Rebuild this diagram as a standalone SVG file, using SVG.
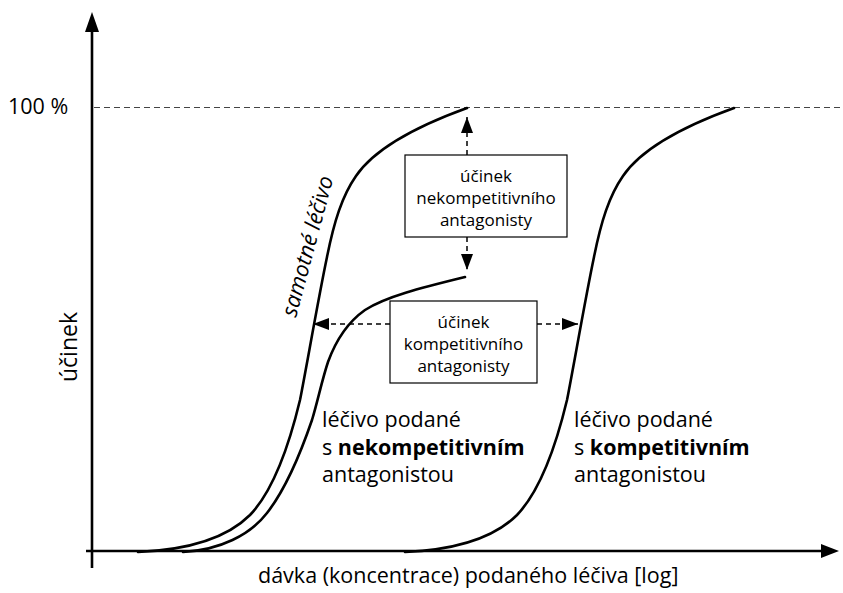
<svg xmlns="http://www.w3.org/2000/svg" width="843" height="593" viewBox="0 0 843 593">
<style>
text{font-family:"Open Sans","Noto Sans",sans-serif;fill:#000}
.lbl{font-size:21.5px}
.box{font-size:17px;text-anchor:middle}
.curve{fill:none;stroke:#000;stroke-width:2.6;stroke-linecap:round}
.axis{stroke:#000;stroke-width:2.6;fill:none}
.dash{stroke:#000;stroke-width:1.5;stroke-dasharray:5 4;fill:none}
.ref{stroke:#444;stroke-width:1.2;stroke-dasharray:6 4;fill:none}
.boxr{fill:#fff;stroke:#000;stroke-width:1.2}
</style>
<defs>
<marker id="ah" markerUnits="userSpaceOnUse" markerWidth="16" markerHeight="12" refX="16" refY="6" orient="auto">
<path d="M0,0 L16,6 L0,12 z" fill="#000" stroke="none"/>
</marker>
<path id="sig" d="M138,552 C185,550 225,540 250,515 C272,492 288,450 300,400 C306,370 318,300 327,257 C334,222 342,196 356,176 C375,148 420,125 467,108"/>
</defs>

<g id="axes">
<line class="ref" x1="94" y1="107.5" x2="843" y2="107.5"/>
<line class="axis" x1="92" y1="568" x2="92" y2="28"/>
<polygon points="92,12 85,32 99,32" fill="#000"/>
<line class="axis" x1="86" y1="551" x2="824" y2="551"/>
<polygon points="839,551 821,544 821,558" fill="#000"/>
<text class="lbl" x="8" y="114">100 %</text>
<text transform="translate(77,347) rotate(-90)" text-anchor="middle" font-size="23">účinek</text>
<text class="lbl" x="258" y="583">dávka (koncentrace) podaného léčiva [log]</text>
</g>

<g id="curve-samotne">
<use href="#sig" class="curve"/>
<text transform="translate(296,318) rotate(-75)" font-size="22" font-style="italic">samotné léčivo</text>
</g>

<g id="curve-nekompetitivni">
<path class="curve" d="M183,552 C220,550 250,535 267,513 C285,490 300,455 312,420 C318,400 322,380 328,362 C336,340 348,322 365,310 C385,297 420,288 465,277"/>
<text class="lbl" x="322" y="427">léčivo podané</text>
<text class="lbl" x="322" y="455">s <tspan font-weight="bold">nekompetitivním</tspan></text>
<text class="lbl" x="322" y="482">antagonistou</text>
</g>

<g id="curve-kompetitivni">
<use href="#sig" class="curve" transform="translate(267,0)"/>
<text class="lbl" x="574" y="427">léčivo podané</text>
<text class="lbl" x="574" y="455">s <tspan font-weight="bold">kompetitivním</tspan></text>
<text class="lbl" x="574" y="482">antagonistou</text>
</g>

<g id="connectors">
<line class="dash" x1="467" y1="155" x2="467" y2="117" marker-end="url(#ah)"/>
<line class="dash" x1="467" y1="237" x2="467" y2="270" marker-end="url(#ah)"/>
<line class="dash" x1="390" y1="324" x2="313" y2="324" marker-end="url(#ah)"/>
<line class="dash" x1="537" y1="324" x2="578" y2="324" marker-end="url(#ah)"/>
</g>

<g id="box-nekompetitivni">
<rect class="boxr" x="405" y="155" width="162" height="82"/>
<text class="box" x="486" y="182">účinek</text>
<text class="box" x="486" y="204">nekompetitivního</text>
<text class="box" x="486" y="226">antagonisty</text>
</g>

<g id="box-kompetitivni">
<rect class="boxr" x="390" y="301" width="147" height="82"/>
<text class="box" x="463.5" y="328">účinek</text>
<text class="box" x="463.5" y="350">kompetitivního</text>
<text class="box" x="463.5" y="372">antagonisty</text>
</g>
</svg>
